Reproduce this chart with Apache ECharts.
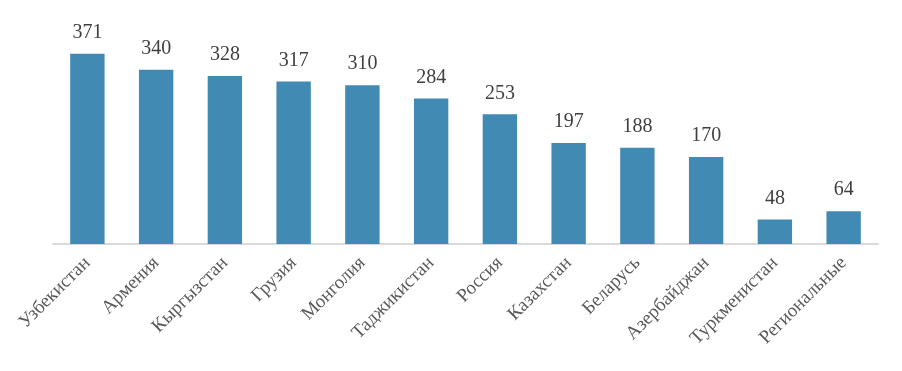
<!DOCTYPE html>
<html><head><meta charset="utf-8">
<script src="https://cdn.jsdelivr.net/npm/echarts@6/dist/echarts.min.js"></script>
<style>html,body{margin:0;padding:0;background:#fff}#c{width:902px;height:371px}</style>
</head><body><div id="c"></div>
<script>
const categories = ["Узбекистан","Армения","Кыргызстан","Грузия","Монголия","Таджикистан","Россия","Казахстан","Беларусь","Азербайджан","Туркменистан","Региональные"];
const values = [371,340,328,317,310,284,253,197,188,170,48,64];
const font = "'Liberation Serif', 'DejaVu Serif', serif";
const chart = echarts.init(document.getElementById('c'));
chart.setOption({
  animation:false,
  grid:{left:53,right:24,top:39,bottom:127},
  xAxis:{type:'category',data:categories,
    axisLine:{lineStyle:{color:'#d9d9d9',width:2}},axisTick:{show:false},
    axisLabel:{rotate:45,interval:0,margin:16,color:'#595959',fontFamily:font,fontSize:19}},
  yAxis:{type:'value',min:0,max:400,show:false,splitLine:{show:false}},
  series:[{type:'bar',data:values,barWidth:'50%',itemStyle:{color:'#418AB3'},
    label:{show:true,position:'top',distance:11,color:'#404040',fontFamily:font,fontSize:20}}]
});
</script></body></html>
